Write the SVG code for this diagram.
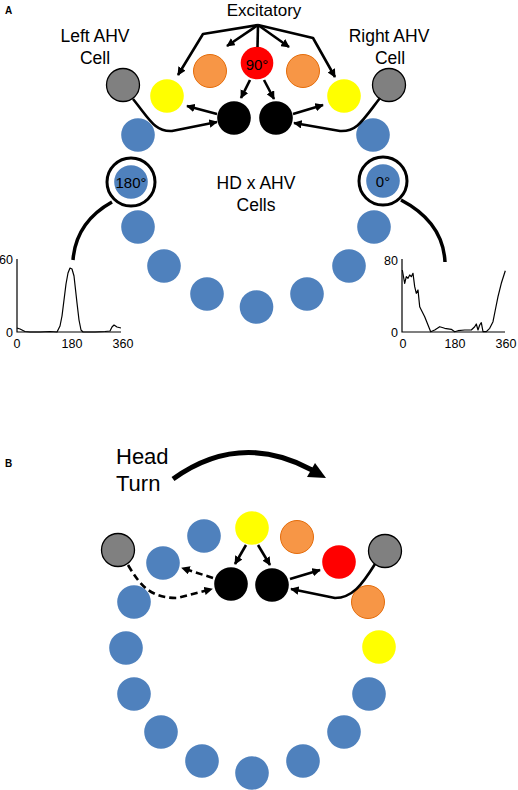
<svg xmlns="http://www.w3.org/2000/svg" width="518" height="790" viewBox="0 0 518 790">
<style>
text{font-family:"Liberation Sans",Arial,sans-serif;fill:#000}
.lbl{font-size:17.5px;text-anchor:middle}
.big{font-size:22px}
.deg{font-size:15px;text-anchor:middle}
.tick{font-size:12.5px}
.panel{font-size:10px;font-weight:bold}
.blue{fill:#4F81BD}
.yel{fill:#FFFF00}
.org{fill:#F79646;stroke:#E46C0A;stroke-width:1}
.red{fill:#FF0000}
.gray{fill:#808080;stroke:#000;stroke-width:1.3}
.blk{fill:#000}
.ring{fill:none;stroke:#000;stroke-width:3}
.con{fill:none;stroke:#000;stroke-width:2.6;stroke-linejoin:round}
.arr{marker-end:url(#ah)}
.dash{stroke-dasharray:7 4}
.thick{fill:none;stroke:#000;stroke-width:3.5}
.axis{fill:none;stroke:#000;stroke-width:1.2}
.trace{fill:none;stroke:#000;stroke-width:1.2;stroke-linejoin:round}
</style>
<defs>
<marker id="ah" viewBox="0 0 10 10" refX="9" refY="5" markerWidth="8.5" markerHeight="8.5" markerUnits="userSpaceOnUse" orient="auto"><path d="M0,0 L10,5 L0,10 Z" fill="#000"/></marker>
</defs>

<text class="panel" x="5" y="13.5">A</text>
<text class="panel" x="5" y="467">B</text>

<!-- Panel A labels -->
<text class="lbl" x="264" y="15.5" style="font-size:17px">Excitatory</text>
<text class="lbl" x="95" y="42">Left AHV</text>
<text class="lbl" x="95" y="64">Cell</text>
<text class="lbl" x="389" y="42">Right AHV</text>
<text class="lbl" x="390" y="64">Cell</text>
<text class="lbl" x="256" y="189">HD x AHV</text>
<text class="lbl" x="256" y="211">Cells</text>

<!-- Panel A nodes -->
<g id="A-gray-left"><circle class="gray" cx="123" cy="85" r="16.5"/></g>
<g id="A-gray-right"><circle class="gray" cx="389" cy="85" r="16.5"/></g>
<g id="A-yellow-left"><circle class="yel" cx="167" cy="96" r="16.8"/></g>
<g id="A-yellow-right"><circle class="yel" cx="344" cy="96" r="16.8"/></g>
<g id="A-orange-left"><circle class="org" cx="210" cy="71" r="16.5"/></g>
<g id="A-orange-right"><circle class="org" cx="303" cy="71" r="16.5"/></g>
<g id="A-red"><circle class="red" cx="257" cy="63" r="16.3"/><text class="deg" x="257" y="70">90°</text></g>
<g id="A-black-left"><circle class="blk" cx="234" cy="118" r="16.8"/></g>
<g id="A-black-right"><circle class="blk" cx="276" cy="118" r="16.8"/></g>
<g id="A-hd-1"><circle class="blue" cx="138" cy="135" r="16.8"/></g>
<g id="A-hd-180"><circle class="blue" cx="131" cy="182" r="16.8"/><circle class="ring" cx="131" cy="182" r="24"/><text class="deg" x="131" y="188">180°</text></g>
<g id="A-hd-3"><circle class="blue" cx="138" cy="227" r="16.8"/></g>
<g id="A-hd-4"><circle class="blue" cx="164" cy="266" r="16.8"/></g>
<g id="A-hd-5"><circle class="blue" cx="207" cy="294" r="16.8"/></g>
<g id="A-hd-6"><circle class="blue" cx="256.5" cy="307" r="16.8"/></g>
<g id="A-hd-7"><circle class="blue" cx="307" cy="294" r="16.8"/></g>
<g id="A-hd-8"><circle class="blue" cx="349" cy="266" r="16.8"/></g>
<g id="A-hd-9"><circle class="blue" cx="374" cy="227" r="16.8"/></g>
<g id="A-hd-0"><circle class="blue" cx="383" cy="181" r="16.8"/><circle class="ring" cx="383" cy="181" r="24"/><text class="deg" x="383" y="187">0°</text></g>
<g id="A-hd-11"><circle class="blue" cx="373" cy="135" r="16.8"/></g>

<!-- Plots -->
<g id="plot-left">
<path class="axis" d="M17,259 V332 H121"/>
<path class="trace" d="M17,328 L20,329 L25,331.5 L30,332 L40,332 L50,331.5 L57,332 L60,326 L62,316 L64,300 L66,284 L68,273 L70,268 L72,269 L74,276 L75,285 L77,303 L79,320 L81,330 L83,332 L95,332 L105,331.5 L110,331 L112,327 L114,325 L117,327 L121,328"/>
<text class="tick" x="13" y="264" text-anchor="end">60</text>
<text class="tick" x="13" y="337" text-anchor="end">0</text>
<text class="tick" x="17" y="348" text-anchor="middle">0</text>
<text class="tick" x="72" y="348" text-anchor="middle">180</text>
<text class="tick" x="123" y="348" text-anchor="middle">360</text>
</g>
<g id="plot-right">
<path class="axis" d="M402,259 V332 H505"/>
<path class="trace" d="M402.3,270 L404.7,283.3 L406.3,276.7 L408,278.3 L409.7,275 L411.3,276.7 L413,273.3 L414.7,286.7 L416.3,293.3 L418,290 L419.7,306.7 L421.3,310 L424.7,316.7 L428,325 L430.7,331.7 L434.7,330 L439.7,326.7 L444.7,328.3 L451.3,329.3 L454.7,331.7 L458,330.7 L464.7,330 L471.3,330 L474.7,326.7 L476.3,324 L478,330 L479.7,325 L481.3,322.7 L483,331.7 L486.3,331.7 L489.7,328.3 L493,321.7 L495.3,310 L498,296.7 L501.3,283.3 L505.3,270.7"/>
<text class="tick" x="398" y="265" text-anchor="end">80</text>
<text class="tick" x="398" y="337" text-anchor="end">0</text>
<text class="tick" x="403" y="348" text-anchor="middle">0</text>
<text class="tick" x="455" y="348" text-anchor="middle">180</text>
<text class="tick" x="506" y="348" text-anchor="middle">360</text>
</g>

<!-- Panel B labels -->
<text class="big" x="116" y="464">Head</text>
<text class="big" x="116" y="491">Turn</text>

<!-- Panel B nodes -->
<g id="B-gray-left"><circle class="gray" cx="118" cy="550" r="16.5"/></g>
<g id="B-gray-right"><circle class="gray" cx="385" cy="551" r="16.5"/></g>
<g id="B-black-left"><circle class="blk" cx="231" cy="584" r="16.8"/></g>
<g id="B-black-right"><circle class="blk" cx="272" cy="585" r="16.8"/></g>
<g id="B-yellow-top"><circle class="yel" cx="252" cy="528" r="16.8"/></g>
<g id="B-orange-1"><circle class="org" cx="297" cy="537" r="16.5"/></g>
<g id="B-red"><circle class="red" cx="339" cy="562" r="16.8"/></g>
<g id="B-orange-2"><circle class="org" cx="368" cy="602" r="16.5"/></g>
<g id="B-yellow-2"><circle class="yel" cx="379" cy="647" r="16.8"/></g>
<g id="B-hd-1"><circle class="blue" cx="204" cy="536" r="16.8"/></g>
<g id="B-hd-2"><circle class="blue" cx="163" cy="563" r="16.8"/></g>
<g id="B-hd-3"><circle class="blue" cx="134" cy="602" r="16.8"/></g>
<g id="B-hd-4"><circle class="blue" cx="126" cy="648" r="16.8"/></g>
<g id="B-hd-5"><circle class="blue" cx="134" cy="694" r="16.8"/></g>
<g id="B-hd-6"><circle class="blue" cx="161" cy="732" r="16.8"/></g>
<g id="B-hd-7"><circle class="blue" cx="202" cy="761" r="16.8"/></g>
<g id="B-hd-8"><circle class="blue" cx="252" cy="773" r="16.8"/></g>
<g id="B-hd-9"><circle class="blue" cx="303" cy="761" r="16.8"/></g>
<g id="B-hd-10"><circle class="blue" cx="344" cy="732" r="16.8"/></g>
<g id="B-hd-11"><circle class="blue" cx="369" cy="694" r="16.8"/></g>

<!-- Connectors -->
<g id="connectors">
<path class="con arr" d="M258,25 L203,34 L178,75"/>
<path class="con arr" d="M258,25 L227,46"/>
<path class="con" d="M258,25 L257.5,47"/>
<path class="con arr" d="M258,25 L289,47"/>
<path class="con arr" d="M258,25 L313,38 L335,77"/>
<path class="con arr" d="M250,80 L241,98"/>
<path class="con arr" d="M264,80 L274,99"/>
<path class="con arr" d="M217,114 L187,106"/>
<path class="con arr" d="M293,114 L323,105"/>
<path class="con arr" d="M133,99 C150,120 155,132 172,131 L217,122"/>
<path class="con arr" d="M380,98 C363,120 357,132 340,131 L294,123"/>
<path class="thick" d="M112,202 Q76,222 73,260"/>
<path class="thick" d="M401,200 Q443,222 445,262"/>

<path fill="none" stroke="#000" stroke-width="5" d="M173,479 Q240,431 312,470"/>
<polygon points="326,478 307,477 315,463" fill="#000"/>

<path class="con arr" d="M246,545 L235,564"/>
<path class="con arr" d="M258,545 L270,565"/>
<path class="con arr" d="M290,579 L320,570"/>
<path class="con arr" d="M375,564 C362,585 352,598 335,598 L291,589"/>
<path class="con arr dash" d="M128,565 C140,585 150,598 177,598 L212,589"/>
<path class="con arr dash" d="M213,578 L182,568"/>
</g>
</svg>
